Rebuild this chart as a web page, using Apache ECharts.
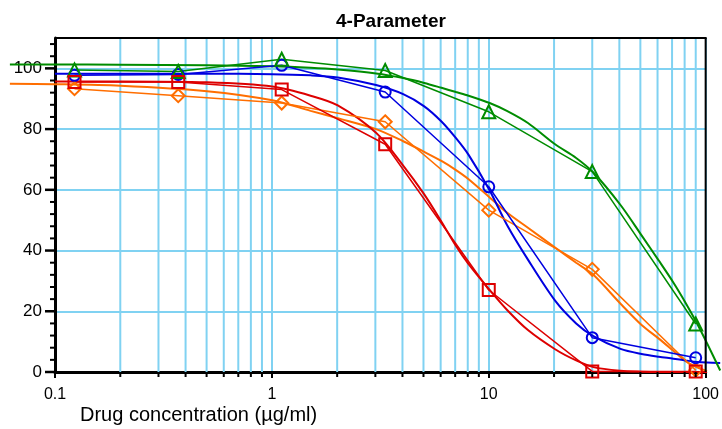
<!DOCTYPE html>
<html><head><meta charset="utf-8">
<script src="https://cdn.jsdelivr.net/npm/echarts@6/dist/echarts.min.js"></script>
<style>html,body{margin:0;padding:0;background:#fff}#c{width:722px;height:429px}</style>
</head><body><div id="c"></div>
<script>
// ---- data ----
const doseX = [0.123, 0.37, 1.11, 3.33, 10, 30, 90];
const greenPts  = [99.5, 99, 103, 99.3, 85.7, 66, 15.8];
const bluePts   = [97.7, 98, 101, 92.2, 61, 11.3, 4.7];
const redPts    = [95.5, 95.5, 93, 75, 27, 0.2, 0.2];
const orangePts = [93.3, 91, 88.6, 82.4, 53.3, 33.8, 0.6];

const fitX      = [0.062, 0.1, 0.2, 0.5, 1, 1.5, 2, 3, 4, 5, 6, 7, 8, 10, 12, 15, 20, 25, 30, 40, 50, 60, 70, 80, 90, 100, 115];
const greenFit  = [101.3, 101.3, 101.2, 101, 100.7, 100.2, 99.6, 98.3, 96.8, 95.2, 93.6, 92.2, 91, 88.6, 86, 82, 75, 70.5, 65.7, 55, 45, 36.7, 29.5, 22.6, 16, 9.5, 0.5];
const blueFit   = [null, 98.2, 98.2, 98.2, 98.1, 97.7, 97, 94.5, 91.5, 87.5, 82.5, 77, 71.5, 59.8, 48.5, 37, 23.5, 16, 11.8, 7.6, 5.9, 5, 4.4, 3.8, 3.3, 3.1, 3.0];
const redFit    = [null, 95.7, 95.7, 95.4, 94, 91, 87.8, 78.8, 68, 58.5, 49.5, 41.5, 35.5, 27, 20.5, 13.8, 7.5, 3.8, 1.6, 0.4, 0.1, 0, 0, 0, 0, 0, null];
const orangeFit = [94.9, 94.8, 94.3, 92.5, 89.5, 86, 83.6, 80, 76, 72.5, 69.5, 66.5, 63.5, 57.5, 52.5, 47.5, 41, 36, 32, 22.5, 15.5, 11, 7, 3.5, 1.5, 0.3, null];

const xMinorTicks = [0.2,0.3,0.4,0.5,0.6,0.7,0.8,0.9, 2,3,4,5,6,7,8,9, 20,30,40,50,60,70,80,90];
const yMajorTicks = [0, 20, 40, 60, 80, 100];
const yMinorTicks = [4,8,12,16,24,28,32,36,44,48,52,56,64,68,72,76,84,88,92,96,104,108];
const xMin = 0.1, xMax = 100, yMin = 0, yMax = 110;

// layout
const PL = 55, PW = 652, PT = 38, PH = 334;      // visible plot
const EL = 10, ER = 722;                          // extended drawing area for fitted curves
const decadePx = PW / Math.log10(xMax / xMin);
const extMin = xMin * Math.pow(10, (EL - PL) / decadePx);
const extMax = xMin * Math.pow(10, (ER - PL) / decadePx);

const GRID = '#80d2f2';
function pairs(xs, ys) { const o = []; for (let i = 0; i < xs.length; i++) if (ys[i] !== null) o.push([xs[i], ys[i]]); return o; }

const groups = [
  { name: 'Orange', color: '#ff6e00', pts: orangePts, fit: orangeFit, symbol: 'diamond',  size: 13 },
  { name: 'Blue',   color: '#0000e0', pts: bluePts,   fit: blueFit,   symbol: 'circle',   size: 11 },
  { name: 'Green',  color: '#008c00', pts: greenPts,  fit: greenFit,  symbol: 'triangle', size: 13 },
  { name: 'Red',    color: '#dd0000', pts: redPts,    fit: redFit,    symbol: 'rect',     size: 12 }
];

const series = [];
series.push({
  type: 'custom', silent: true, clip: false, z: 1, data: [[xMin, yMin]],
  renderItem: function (params, api) {
    const ch = [];
    xMinorTicks.forEach(function (v) {
      const a = api.coord([v, yMin]), b = api.coord([v, yMax]);
      ch.push({ type: 'line', shape: { x1: a[0], y1: a[1], x2: b[0], y2: b[1] }, style: { stroke: GRID, lineWidth: 2 } });
    });
    return { type: 'group', children: ch };
  }
});
groups.forEach(function (g) {
  series.push({
    type: 'line', name: g.name + ' fit', xAxisIndex: 1, yAxisIndex: 1,
    data: pairs(fitX, g.fit), symbol: 'none', showSymbol: false, smooth: 0.3,
    lineStyle: { color: g.color, width: 2 }, clip: false, z: 3, silent: true
  });
  series.push({
    type: 'line', name: g.name, data: pairs(doseX, g.pts), symbol: g.symbol, symbolSize: g.size,
    itemStyle: { color: 'rgba(0,0,0,0)', borderColor: g.color, borderWidth: 2 },
    lineStyle: { color: g.color, width: 1.5 }, clip: false, z: 4
  });
});
series.push({
  type: 'custom', silent: true, clip: false, z: 10, data: [[xMin, yMin]],
  renderItem: function (params, api) {
    const ch = [];
    const tl = api.coord([xMin, yMax]), tr = api.coord([xMax, yMax]), br = api.coord([xMax, yMin]);
    ch.push({ type: 'line', shape: { x1: tl[0], y1: tl[1], x2: tr[0] + 1, y2: tr[1] }, style: { stroke: '#000', lineWidth: 2 } });
    ch.push({ type: 'line', shape: { x1: tr[0], y1: tr[1], x2: br[0], y2: br[1] }, style: { stroke: '#000', lineWidth: 2 } });
    xMinorTicks.forEach(function (v) {
      const p = api.coord([v, yMin]);
      ch.push({ type: 'line', shape: { x1: p[0], y1: p[1], x2: p[0], y2: p[1] + 5 }, style: { stroke: '#000', lineWidth: 2 } });
    });
    yMajorTicks.forEach(function (v) {
      const p = api.coord([xMin, v]);
      ch.push({ type: 'line', shape: { x1: p[0], y1: p[1], x2: p[0] - 10, y2: p[1] }, style: { stroke: '#000', lineWidth: 2.5 } });
    });
    yMinorTicks.forEach(function (v) {
      const p = api.coord([xMin, v]);
      ch.push({ type: 'line', shape: { x1: p[0], y1: p[1], x2: p[0] - 5, y2: p[1] }, style: { stroke: '#000', lineWidth: 2 } });
    });
    return { type: 'group', children: ch };
  }
});

const chart = echarts.init(document.getElementById('c'), null, { renderer: 'canvas' });
chart.setOption({
  animation: false,
  backgroundColor: '#fff',
  textStyle: { fontFamily: 'Liberation Sans, Arial, sans-serif' },
  title: {
    text: '4-Parameter', left: 331, top: 7,
    textStyle: { fontFamily: 'Liberation Sans, Arial, sans-serif', fontWeight: 'bold', fontSize: 19, color: '#000' }
  },
  grid: [
    { left: PL, top: PT, width: PW, height: PH, containLabel: false },
    { left: EL, top: PT, width: ER - EL, height: PH, containLabel: false }
  ],
  xAxis: [{
    type: 'log', logBase: 10, min: xMin, max: xMax, gridIndex: 0,
    axisLine: { lineStyle: { color: '#000', width: 3 } },
    axisTick: { show: true, length: 6, lineStyle: { color: '#000', width: 2 } },
    axisLabel: { color: '#000', fontSize: 16, margin: 15, formatter: function (v) { return String(+v.toPrecision(3)); } },
    splitLine: { show: true, lineStyle: { color: GRID, width: 2 } },
    minorTick: { show: false }, minorSplitLine: { show: false }
  }, {
    type: 'log', logBase: 10, min: extMin, max: extMax, gridIndex: 1, show: false,
    splitLine: { show: false }
  }],
  yAxis: [{
    type: 'value', min: yMin, max: yMax, interval: 20, gridIndex: 0,
    axisLine: { show: true, lineStyle: { color: '#000', width: 3 } },
    axisTick: { show: false },
    axisLabel: { color: '#000', fontSize: 17, margin: 13, showMaxLabel: false },
    splitLine: { show: true, lineStyle: { color: GRID, width: 2 } }
  }, {
    type: 'value', min: yMin, max: yMax, gridIndex: 1, show: false,
    splitLine: { show: false }
  }],
  graphic: [{
    type: 'text', left: 80, top: 405,
    style: { text: 'Drug concentration (µg/ml)', fill: '#000', font: '20px "Liberation Sans", Arial, sans-serif' }
  }],
  series: series
});
</script>
</body></html>
